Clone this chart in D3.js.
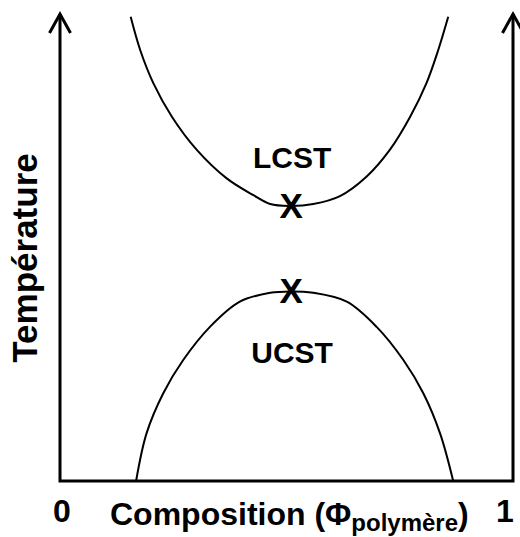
<!DOCTYPE html>
<html>
<head>
<meta charset="utf-8">
<script src="https://cdn.jsdelivr.net/npm/d3@7"></script>
<style>
  body { margin: 0; background: #fff; }
  text { font-family: "Liberation Sans", Arial, sans-serif; font-weight: bold; fill: #000; }
</style>
</head>
<body>
<svg></svg>
<script>
// -------------------------------------------------------------
const width = 520;
const height = 537;

// composition (phi polymer) and temperature (arbitrary units)
const lcstPhi  = [0.156, 0.177, 0.206, 0.247, 0.302, 0.368, 0.427, 0.464, 0.508, 0.559, 0.618, 0.677, 0.728, 0.773, 0.809, 0.835, 0.857];
const lcstTemp = [99.4, 92.3, 85.2, 78.0, 70.9, 64.8, 61.2, 59.3, 58.9, 59.3, 61.0, 65.2, 70.9, 78.0, 85.2, 92.3, 99.4];
const ucstPhi  = [0.168, 0.191, 0.228, 0.272, 0.331, 0.397, 0.464, 0.508, 0.559, 0.633, 0.699, 0.758, 0.802, 0.839, 0.868];
const ucstTemp = [0, 10.2, 18.8, 25.9, 33.0, 38.4, 40.3, 40.6, 40.3, 38.4, 33.0, 25.9, 18.8, 10.2, 0];
const criticalPoints = [
  { name: 'LCST', phi: 0.508, temp: 58.9 },
  { name: 'UCST', phi: 0.508, temp: 40.6 }
];
const xTickLabels = ['0', '1'];

const svg = d3.select('svg').attr('width', width).attr('height', height);
const x = d3.scaleLinear().domain([0, 1]).range([60, 513]);
const y = d3.scaleLinear().domain([0, 100]).range([481, 14]);

const line = d3.line()
  .x(d => x(d[0]))
  .y(d => y(d[1]))
  .curve(d3.curveCatmullRom.alpha(0.5));

drawAxes();
drawCurves();
drawLabels();

// -------------------------------------------------------------
function drawAxes() {
  const g = svg.append('g')
    .attr('fill', 'none')
    .attr('stroke', '#000')
    .attr('stroke-width', 3);

  g.append('path')
    .attr('d', `M${x(0)},${y(100)}V${y(0)}H${x(1)}V${y(100)}`);

  // open arrow heads on both vertical axes
  [0, 1].forEach(v => {
    g.append('path')
      .attr('stroke-linejoin', 'miter')
      .attr('d', `M${x(v) - 10.5},${y(100) + 19}L${x(v)},${y(100)}L${x(v) + 10.5},${y(100) + 19}`);
  });
}

// -------------------------------------------------------------
function drawCurves() {
  const curves = [d3.zip(lcstPhi, lcstTemp), d3.zip(ucstPhi, ucstTemp)];

  svg.append('g').selectAll('path')
    .data(curves)
    .enter().append('path')
    .attr('d', line)
    .attr('fill', 'none')
    .attr('stroke', '#000')
    .attr('stroke-width', 2);
}

// -------------------------------------------------------------
function drawLabels() {
  // critical points marked with an X
  svg.append('g').selectAll('text')
    .data(criticalPoints)
    .enter().append('text')
    .attr('x', d => x(d.phi) + 1)
    .attr('y', d => y(d.temp) + 12)
    .attr('text-anchor', 'middle')
    .style('font-size', '35px')
    .text('X');

  svg.append('text')
    .attr('x', x(criticalPoints[0].phi) + 2)
    .attr('y', 168)
    .attr('text-anchor', 'middle')
    .style('font-size', '30px')
    .text(criticalPoints[0].name);

  svg.append('text')
    .attr('x', x(criticalPoints[1].phi) + 2)
    .attr('y', 363)
    .attr('text-anchor', 'middle')
    .style('font-size', '30px')
    .text(criticalPoints[1].name);

  svg.selectAll('.tick-label')
    .data(xTickLabels)
    .enter().append('text')
    .attr('class', 'tick-label')
    .attr('x', (d, i) => i === 0 ? x(0) + 2 : x(1) - 8)
    .attr('y', 522)
    .attr('text-anchor', 'middle')
    .style('font-size', '32px')
    .text(d => d);

  const xTitle = svg.append('text')
    .attr('x', 110)
    .attr('y', 525)
    .style('font-size', '32px');
  xTitle.append('tspan').text('Composition (Φ');
  xTitle.append('tspan').attr('dy', 6).style('font-size', '24px').text('polymère');
  xTitle.append('tspan').attr('dy', -6).text(')');

  svg.append('text')
    .attr('transform', 'translate(37,258) rotate(-90)')
    .attr('text-anchor', 'middle')
    .style('font-size', '35px')
    .text('Température');
}
</script>
</body>
</html>
